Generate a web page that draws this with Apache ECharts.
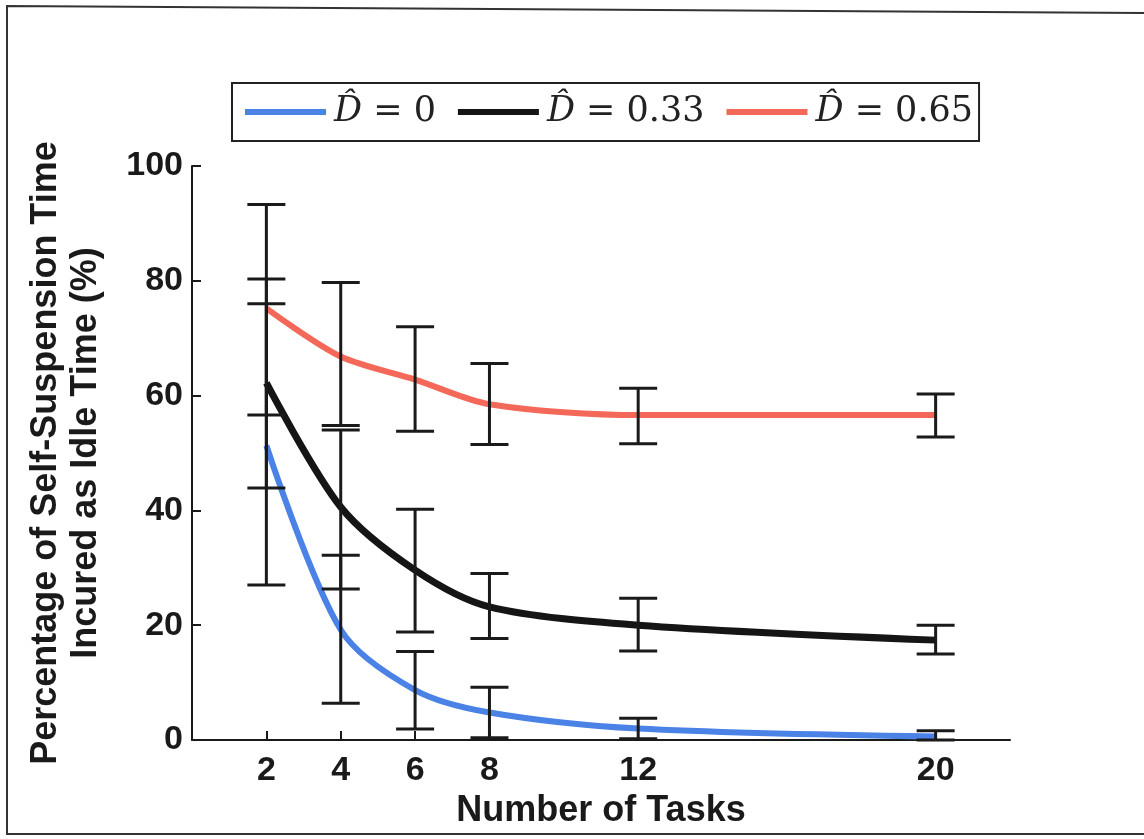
<!DOCTYPE html>
<html>
<head>
<meta charset="utf-8">
<title>Self-suspension idle time</title>
<script src="https://cdn.jsdelivr.net/npm/echarts@6/dist/echarts.min.js"></script>
<style>
  html, body { margin: 0; padding: 0; background: #fff; }
  #chart { width: 1144px; height: 839px; }
</style>
</head>
<body>
<div id="chart"></div>
<script>
// number of tasks on the x axis
const taskCounts = [2, 4, 6, 8, 12, 20]
const yTicks = [0, 20, 40, 60, 80, 100]

// mean idle percentage per D-hat value
const seriesNames = ['0', '0.33', '0.65']
const meanD0 = [51.3, 19.2, 8.7, 4.8, 2.0, 0.6]
const meanD033 = [62.2, 40.6, 29.6, 23.2, 20.0, 17.4]
const meanD065 = [75.2, 66.8, 62.8, 58.5, 56.6, 56.6]

// error bar bounds (low / high)
const lowD0 = [27.0, 6.4, 1.9, 0.4, 0.2, 0.0]
const highD0 = [76.0, 32.2, 15.4, 9.2, 3.8, 1.6]
const lowD033 = [43.9, 26.3, 18.8, 17.7, 15.5, 15.0]
const highD033 = [80.3, 54.0, 40.2, 29.0, 24.7, 20.0]
const lowD065 = [56.6, 54.8, 53.8, 51.5, 51.6, 52.8]
const highD065 = [93.3, 79.7, 72.0, 65.6, 61.3, 60.3]

const colors = ['#4a82e6', '#151515', '#f4685a']
const labelFont = { fontFamily: 'Liberation Sans', fontWeight: 'bold', fontSize: 34, color: '#1a1a1a' }

const chart = echarts.init(document.getElementById('chart'))

const pairs = (ys) => taskCounts.map((x, i) => [x, ys[i]])
const bars = (lo, hi) => taskCounts.map((x, i) => [x, lo[i], hi[i]])

// draws a vertical error bar with caps
const renderErrorBar = (params, api) => {
  const x = api.value(0)
  const lo = api.coord([x, api.value(1)])
  const hi = api.coord([x, api.value(2)])
  const half = 19
  const style = { stroke: '#1a1a1a', lineWidth: 3 }
  return {
    type: 'group',
    children: [
      { type: 'line', shape: { x1: lo[0], y1: hi[1], x2: lo[0], y2: lo[1] }, style },
      { type: 'line', shape: { x1: lo[0] - half, y1: hi[1], x2: lo[0] + half, y2: hi[1] }, style },
      { type: 'line', shape: { x1: lo[0] - half, y1: lo[1], x2: lo[0] + half, y2: lo[1] }, style }
    ]
  }
}

const lineSeries = (name, data, color, width) => ({
  name,
  type: 'line',
  data: pairs(data),
  smooth: 0.3,
  symbol: 'none',
  lineStyle: { color, width },
  itemStyle: { color },
  z: 2
})

const barSeries = (name, lo, hi) => ({
  name,
  type: 'custom',
  renderItem: renderErrorBar,
  data: bars(lo, hi),
  encode: { x: 0, y: [1, 2] },
  z: 3
})

chart.setOption({
  animation: false,
  grid: { left: 192, right: 134, top: 166, bottom: 99 },
  legend: {
    data: seriesNames,
    left: 232,
    top: 83,
    padding: [7, 6, 7, 13],
    borderColor: '#222',
    borderWidth: 2,
    itemGap: 22,
    itemWidth: 81,
    itemHeight: 6,
    icon: 'rect',
    formatter: name => '{d|D\u0302}{e| = ' + name + '}',
    textStyle: {
      lineHeight: 44,
      rich: {
        d: { fontFamily: 'DejaVu Serif', fontStyle: 'italic', fontSize: 35, color: '#222', padding: [0, 0, 0, 3] },
        e: { fontFamily: 'DejaVu Serif', fontSize: 35, color: '#222' }
      }
    }
  },
  xAxis: {
    type: 'value',
    min: 0,
    max: 22,
    name: 'Number of Tasks',
    nameLocation: 'middle',
    nameGap: 46,
    nameTextStyle: { fontFamily: 'Liberation Sans', fontWeight: 'bold', fontSize: 36, color: '#1a1a1a' },
    axisLine: { lineStyle: { color: '#1a1a1a', width: 2 } },
    axisTick: { inside: true, length: 9, customValues: taskCounts, lineStyle: { color: '#1a1a1a', width: 2 } },
    axisLabel: { ...labelFont, margin: 14, customValues: taskCounts },
    splitLine: { show: false }
  },
  yAxis: {
    type: 'value',
    min: 0,
    max: 100,
    interval: 20,
    name: 'Percentage of Self-Suspension Time\nIncured as Idle Time (%)',
    nameLocation: 'middle',
    nameGap: 86,
    nameTextStyle: { fontFamily: 'Liberation Sans', fontWeight: 'bold', fontSize: 36, lineHeight: 40, color: '#1a1a1a' },
    axisLine: { show: true, lineStyle: { color: '#1a1a1a', width: 2 } },
    axisTick: { inside: true, length: 9, customValues: yTicks, lineStyle: { color: '#1a1a1a', width: 2 } },
    axisLabel: { ...labelFont, margin: 9, customValues: yTicks },
    splitLine: { show: false }
  },
  graphic: [
    {
      type: 'polyline',
      shape: { points: [[1144, 13], [7, 6], [7, 834], [1144, 834]] },
      style: { stroke: '#333', lineWidth: 2, fill: null },
      silent: true
    }
  ],
  series: [
    lineSeries('0', meanD0, colors[0], 6),
    lineSeries('0.33', meanD033, colors[1], 7),
    lineSeries('0.65', meanD065, colors[2], 6),
    barSeries('err0', lowD0, highD0),
    barSeries('err033', lowD033, highD033),
    barSeries('err065', lowD065, highD065)
  ]
})

window.addEventListener('resize', () => chart.resize())
</script>
</body>
</html>
